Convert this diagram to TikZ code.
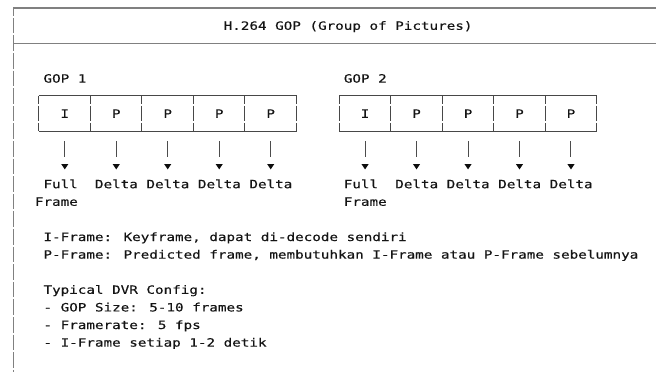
\documentclass[tikz,border=0pt]{standalone}
\usepackage{fontspec}
\newfontfamily\monof[FakeStretch=1.25,FakeBold=0.35]{DejaVu Sans Mono}
\usetikzlibrary{calc}
\tikzset{
  txt/.style={font=\monof\fontsize{11.4}{13}\selectfont, inner sep=0pt, text=black!92, anchor=base west},
  cell/.style={font=\monof\fontsize{11.4}{13}\selectfont, inner sep=0pt, text=black!92, minimum width=51.48pt, minimum height=35.2pt, anchor=center},
  frameline/.style={draw=black!50, line width=1.1pt},
  boxline/.style={draw=black!72, line width=1pt},
  gapline/.style={dash pattern=on 15.6pt off 2pt, dash phase=7.8pt},
  conn/.style={draw=black!70, line width=1pt},
  tipc/.style={fill=black!95}
}
\begin{document}
\begin{tikzpicture}[x=1pt, y=-1pt,
  declare function={colc(\c)=13.29+8.58*\c; colx(\c)=9+8.58*\c; rowy(\r)=8+17.6*\r; rowb(\r)=12.2+17.6*\r;}]
\useasboundingbox[fill=white] (0,0) rectangle (656,372);

% outer frame
\draw[frameline] ({colc(0)},{rowy(0)}) -- (656,{rowy(0)});
\draw[frameline] ({colc(0)},{rowy(2)}) -- (656,{rowy(2)});
\draw[frameline, gapline] ({colc(0)},{rowy(0)}) -- ({colc(0)},372);

% title
\node[txt] (title) at ({colx(25)},{rowb(1)}) {H.264 GOP (Group of Pictures)};

% group labels
\node[txt] (gop1) at ({colx(4)},{rowb(4)}) {GOP 1};
\node[txt] (gop2) at ({colx(39)},{rowb(4)}) {GOP 2};

% cells GOP 1
\node[cell] (g1a) at ({colc(6)},{rowy(6)}) {I};
\node[cell] (g1b) at ({colc(12)},{rowy(6)}) {P};
\node[cell] (g1c) at ({colc(18)},{rowy(6)}) {P};
\node[cell] (g1d) at ({colc(24)},{rowy(6)}) {P};
\node[cell] (g1e) at ({colc(30)},{rowy(6)}) {P};
% cells GOP 2
\node[cell] (g2a) at ({colc(41)},{rowy(6)}) {I};
\node[cell] (g2b) at ({colc(47)},{rowy(6)}) {P};
\node[cell] (g2c) at ({colc(53)},{rowy(6)}) {P};
\node[cell] (g2d) at ({colc(59)},{rowy(6)}) {P};
\node[cell] (g2e) at ({colc(65)},{rowy(6)}) {P};

% box outlines
\draw[boxline] (g1a.north west) -- (g1e.north east);
\draw[boxline] (g1a.south west) -- (g1e.south east);
\draw[boxline] (g2a.north west) -- (g2e.north east);
\draw[boxline] (g2a.south west) -- (g2e.south east);
\foreach \n in {g1a,g1b,g1c,g1d,g1e,g2a,g2b,g2c,g2d,g2e}
  \draw[boxline, gapline] (\n.north west) -- (\n.south west);
\draw[boxline, gapline] (g1e.north east) -- (g1e.south east);
\draw[boxline, gapline] (g2e.north east) -- (g2e.south east);

% connectors with arrowheads
\foreach \n in {g1a,g1b,g1c,g1d,g1e,g2a,g2b,g2c,g2d,g2e}{
  \draw[conn] ([yshift=-9.8pt]\n.south) -- ([yshift=-25.4pt]\n.south);
  \fill[tipc] ([shift={(-3.6pt,-32.6pt)}]\n.south) -- ([shift={(3.6pt,-32.6pt)}]\n.south) -- ([shift={(0pt,-38pt)}]\n.south) -- cycle;
}

% frame labels GOP 1
\node[txt] (l1a) at ({colx(4)},{rowb(10)}) {Full};
\node[txt] (l1a2) at ({colx(3)},{rowb(11)}) {Frame};
\node[txt] (l1b) at ({colx(10)},{rowb(10)}) {Delta};
\node[txt] (l1c) at ({colx(16)},{rowb(10)}) {Delta};
\node[txt] (l1d) at ({colx(22)},{rowb(10)}) {Delta};
\node[txt] (l1e) at ({colx(28)},{rowb(10)}) {Delta};
% frame labels GOP 2
\node[txt] (l2a) at ({colx(39)},{rowb(10)}) {Full};
\node[txt] (l2a2) at ({colx(39)},{rowb(11)}) {Frame};
\node[txt] (l2b) at ({colx(45)},{rowb(10)}) {Delta};
\node[txt] (l2c) at ({colx(51)},{rowb(10)}) {Delta};
\node[txt] (l2d) at ({colx(57)},{rowb(10)}) {Delta};
\node[txt] (l2e) at ({colx(63)},{rowb(10)}) {Delta};

% notes
\node[txt] (n1) at ({colx(4)},{rowb(13)}) {I-Frame: Keyframe, dapat di-decode sendiri};
\node[txt] (n2) at ({colx(4)},{rowb(14)}) {P-Frame: Predicted frame, membutuhkan I-Frame atau P-Frame sebelumnya};
\node[txt] (n3) at ({colx(4)},{rowb(16)}) {Typical DVR Config:};
\node[txt] (n4) at ({colx(4)},{rowb(17)}) {- GOP Size: 5-10 frames};
\node[txt] (n5) at ({colx(4)},{rowb(18)}) {- Framerate: 5 fps};
\node[txt] (n6) at ({colx(4)},{rowb(19)}) {- I-Frame setiap 1-2 detik};
\end{tikzpicture}
\end{document}
